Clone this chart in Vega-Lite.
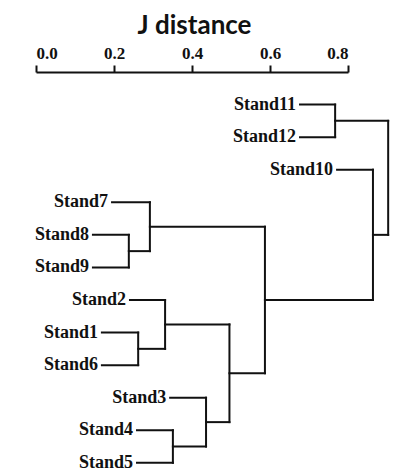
{
  "$schema": "https://vega.github.io/schema/vega-lite/v6.json",
  "width": 312,
  "height": 398,
  "autosize": {"type": "none"},
  "padding": {"left": 36, "top": 72, "right": 51, "bottom": 1},
  "background": "white",
  "config": {"view": {"stroke": null}},
  "datasets": {
    "segments": [
      {"x": 0.677, "x2": 0.767, "y": 0, "y2": 0},
      {"x": 0.677, "x2": 0.767, "y": 1, "y2": 1},
      {"x": 0.772, "x2": 0.864, "y": 2, "y2": 2},
      {"x": 0.195, "x2": 0.292, "y": 3, "y2": 3},
      {"x": 0.146, "x2": 0.238, "y": 4, "y2": 4},
      {"x": 0.146, "x2": 0.238, "y": 5, "y2": 5},
      {"x": 0.241, "x2": 0.331, "y": 6, "y2": 6},
      {"x": 0.169, "x2": 0.262, "y": 7, "y2": 7},
      {"x": 0.169, "x2": 0.262, "y": 8, "y2": 8},
      {"x": 0.344, "x2": 0.436, "y": 9, "y2": 9},
      {"x": 0.259, "x2": 0.351, "y": 10, "y2": 10},
      {"x": 0.259, "x2": 0.351, "y": 11, "y2": 11},
      {"x": 0.767, "x2": 0.903, "y": 0.5, "y2": 0.5},
      {"x": 0.238, "x2": 0.292, "y": 4.5, "y2": 4.5},
      {"x": 0.292, "x2": 0.587, "y": 3.75, "y2": 3.75},
      {"x": 0.262, "x2": 0.331, "y": 7.5, "y2": 7.5},
      {"x": 0.331, "x2": 0.496, "y": 6.75, "y2": 6.75},
      {"x": 0.351, "x2": 0.436, "y": 10.5, "y2": 10.5},
      {"x": 0.436, "x2": 0.496, "y": 9.75, "y2": 9.75},
      {"x": 0.496, "x2": 0.587, "y": 8.25, "y2": 8.25},
      {"x": 0.587, "x2": 0.864, "y": 6, "y2": 6},
      {"x": 0.864, "x2": 0.903, "y": 4, "y2": 4},
      {"x": 0.767, "x2": 0.767, "y": 0, "y2": 1},
      {"x": 0.238, "x2": 0.238, "y": 4, "y2": 5},
      {"x": 0.292, "x2": 0.292, "y": 3, "y2": 4.5},
      {"x": 0.262, "x2": 0.262, "y": 7, "y2": 8},
      {"x": 0.331, "x2": 0.331, "y": 6, "y2": 7.5},
      {"x": 0.351, "x2": 0.351, "y": 10, "y2": 11},
      {"x": 0.436, "x2": 0.436, "y": 9, "y2": 10.5},
      {"x": 0.496, "x2": 0.496, "y": 6.75, "y2": 9.75},
      {"x": 0.587, "x2": 0.587, "y": 3.75, "y2": 8.25},
      {"x": 0.864, "x2": 0.864, "y": 2, "y2": 6},
      {"x": 0.903, "x2": 0.903, "y": 0.5, "y2": 4}
    ],
    "leaves": [
      {"name": "Stand11", "x": 0.677, "y": 0},
      {"name": "Stand12", "x": 0.677, "y": 1},
      {"name": "Stand10", "x": 0.772, "y": 2},
      {"name": "Stand7", "x": 0.195, "y": 3},
      {"name": "Stand8", "x": 0.146, "y": 4},
      {"name": "Stand9", "x": 0.146, "y": 5},
      {"name": "Stand2", "x": 0.241, "y": 6},
      {"name": "Stand1", "x": 0.169, "y": 7},
      {"name": "Stand6", "x": 0.169, "y": 8},
      {"name": "Stand3", "x": 0.344, "y": 9},
      {"name": "Stand4", "x": 0.259, "y": 10},
      {"name": "Stand5", "x": 0.259, "y": 11}
    ]
  },
  "layer": [
    {
      "data": {"name": "segments"},
      "mark": {"type": "rule", "stroke": "#111111", "strokeWidth": 2, "strokeCap": "square"},
      "encoding": {
        "x": {
          "field": "x", "type": "quantitative",
          "scale": {"domain": [0, 0.8], "nice": false, "zero": false},
          "axis": {
            "orient": "top",
            "values": [0, 0.2, 0.4, 0.6, 0.8],
            "format": ".1f",
            "grid": false,
            "domainColor": "#111111",
            "domainWidth": 2,
            "tickColor": "#111111",
            "tickWidth": 2,
            "tickSize": 7,
            "labelFont": "Liberation Serif",
            "labelFontWeight": "bold",
            "labelFontSize": 17,
            "labelColor": "#111111",
            "labelPadding": 3,
            "title": "J distance",
            "titleFont": "Lato",
            "titleFontSize": 26,
            "titleFontWeight": "bold",
            "titleColor": "#111111",
            "titlePadding": 6,
            "titleX": 158
          }
        },
        "x2": {"field": "x2"},
        "y": {
          "field": "y", "type": "quantitative",
          "scale": {"domain": [-1, 11.22], "reverse": true, "nice": false, "zero": false},
          "axis": null
        },
        "y2": {"field": "y2"}
      }
    },
    {
      "data": {"name": "leaves"},
      "mark": {"type": "text", "align": "right", "baseline": "middle", "dx": -4, "font": "Liberation Serif", "fontWeight": "bold", "fontSize": 18, "color": "#111111"},
      "encoding": {
        "x": {"field": "x", "type": "quantitative"},
        "y": {"field": "y", "type": "quantitative"},
        "text": {"field": "name"}
      }
    }
  ]
}
